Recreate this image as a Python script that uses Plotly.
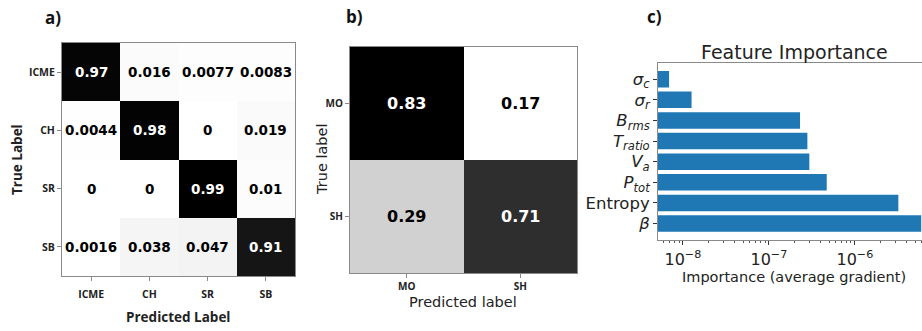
import numpy as np
import plotly.graph_objects as go

W, H = 922, 331

# ---------- data ----------
a_labels = ["ICME", "CH", "SR", "SB"]
a_values = [
    [0.97, 0.016, 0.0077, 0.0083],
    [0.0044, 0.98, 0.0, 0.019],
    [0.0, 0.0, 0.99, 0.01],
    [0.0016, 0.038, 0.047, 0.91],
]
b_labels = ["MO", "SH"]
b_values = [
    [0.83, 0.17],
    [0.29, 0.71],
]
c_features = ["<i>σ</i><sub><i>c</i></sub>", "<i>σ</i><sub><i>r</i></sub>",
              "<i>B</i><sub><i>rms</i></sub>", "<i>T</i><sub><i>ratio</i></sub>",
              "<i>V</i><sub><i>a</i></sub>", "<i>P</i><sub><i>tot</i></sub>",
              "Entropy", "<i>β</i>"]
c_importance = [6.9e-9, 1.26e-8, 2.3e-7, 2.8e-7, 2.95e-7, 4.7e-7, 3.2e-6, 5.9e-6]
c_tickvals = [1e-8, 1e-7, 1e-6]
c_ticktext = ["10<sup>−8</sup>", "10<sup>−7</sup>", "10<sup>−6</sup>"]

def px_x(p):
    return p / W

def px_y(p):
    return 1 - p / H

gray_scale = [[0, "#ffffff"], [1, "#000000"]]
FRAME = "#8a8a8a"

fig = go.Figure()

# ---------- panel a ----------
fig.add_trace(go.Heatmap(
    z=a_values, x=a_labels, y=a_labels, colorscale=gray_scale,
    zmin=0, zmax=0.99, showscale=False, xaxis="x", yaxis="y",
    hoverinfo="z"))

annotations = []
for i, row in enumerate(a_values):
    for j, v in enumerate(row):
        annotations.append(dict(
            x=a_labels[j], y=a_labels[i], xref="x", yref="y",
            text=f"{v:.2g}", showarrow=False,
            font=dict(family="DejaVu Sans", size=13.5,
                      color="white" if v > 0.5 else "black", weight="bold")))

# ---------- panel b ----------
fig.add_trace(go.Heatmap(
    z=b_values, x=b_labels, y=b_labels, colorscale=gray_scale,
    zmin=0.17, zmax=0.83, showscale=False, xaxis="x2", yaxis="y2",
    hoverinfo="z"))
for i, row in enumerate(b_values):
    for j, v in enumerate(row):
        annotations.append(dict(
            x=b_labels[j], y=b_labels[i], xref="x2", yref="y2",
            text=f"{v:.2g}", showarrow=False,
            font=dict(family="DejaVu Sans", size=16,
                      color="white" if v > 0.5 else "black", weight="bold")))

# ---------- panel c ----------
fig.add_trace(go.Bar(
    x=c_importance, y=c_features, orientation="h", width=0.8,
    marker=dict(color="#1f77b4", line=dict(width=0)),
    xaxis="x3", yaxis="y3"))

minor_vals = [k * 10.0 ** e for e in range(-9, -4) for k in range(2, 10)]

tick_font_a = dict(family="Open Sans", size=10.5, color="#222", weight="bold")
fig.update_layout(
    width=W, height=H, margin=dict(l=0, r=0, t=0, b=0),
    paper_bgcolor="white", plot_bgcolor="white", showlegend=False,
    xaxis=dict(domain=[px_x(62), px_x(295)], anchor="y",
               showline=True, linecolor=FRAME, mirror=True, linewidth=1,
               ticks="outside", ticklen=4, tickcolor=FRAME, ticklabelstandoff=4,
               tickfont=tick_font_a, showgrid=False, zeroline=False),
    yaxis=dict(domain=[px_y(276), px_y(43)], anchor="x", autorange="reversed",
               showline=True, linecolor=FRAME, mirror=True, linewidth=1,
               ticks="outside", ticklen=4, tickcolor=FRAME,
               tickfont=tick_font_a, showgrid=False, zeroline=False),
    xaxis2=dict(domain=[px_x(350), px_x(577)], anchor="y2",
                showline=True, linecolor=FRAME, mirror=True, linewidth=1,
                ticks="outside", ticklen=4, tickcolor=FRAME,
                tickfont=dict(family="Open Sans", size=10, color="#222", weight="bold"),
                showgrid=False, zeroline=False),
    yaxis2=dict(domain=[px_y(273), px_y(47)], anchor="x2", autorange="reversed",
                showline=True, linecolor=FRAME, mirror=True, linewidth=1,
                ticks="outside", ticklen=4, tickcolor=FRAME,
                tickfont=dict(family="Open Sans", size=10, color="#222", weight="bold"),
                showgrid=False, zeroline=False),
    xaxis3=dict(domain=[px_x(658), 1.0], anchor="y3", type="log",
                range=[-8.29, -5.22],
                showline=True, linecolor=FRAME, mirror=True, linewidth=1,
                ticks="outside", ticklen=4, tickcolor="#333", ticklabelstandoff=1,
                tickvals=c_tickvals, ticktext=c_ticktext,
                tickfont=dict(family="DejaVu Sans", size=16, color="#222"),
                minor=dict(tickvals=minor_vals, ticks="outside", ticklen=2,
                           tickcolor="#555", showgrid=False),
                showgrid=False, zeroline=False),
    yaxis3=dict(domain=[px_y(240), px_y(62.7)], anchor="x3",
                range=[7.8, -0.8],
                showline=True, linecolor=FRAME, linewidth=1,
                ticks="outside", ticklen=4, tickcolor="#333",
                tickfont=dict(family="DejaVu Sans", size=16.5, color="#222"),
                showgrid=False, zeroline=False),
)

def label(text, x, y, size, family="DejaVu Sans", bold=False, angle=0, color="#222"):
    f = dict(family=family, size=size, color=color)
    if bold:
        f["weight"] = "bold"
    return dict(text=text, x=px_x(x), y=px_y(y), xref="paper", yref="paper",
                xanchor="center", yanchor="middle", showarrow=False,
                textangle=angle, font=f)

annotations += [
    label("Predicted Label", 178, 317, 13.5, family="Open Sans", bold=True),
    label("True Label", 17, 160, 13.5, family="Open Sans", bold=True, angle=-90),
    label("Predicted label", 463, 302, 14.5),
    label("True label", 322, 160, 14.5, angle=-90),
    label("Feature Importance", 794, 52, 19),
    label("Importance (average gradient)", 794, 277, 14.5),
    label("a)", 53, 17, 17, family="Open Sans", bold=True, color="#111"),
    label("b)", 354, 16, 17, family="Open Sans", bold=True, color="#111"),
    label("c)", 654, 16, 17, family="Open Sans", bold=True, color="#111"),
]
fig.update_layout(annotations=annotations)

fig.write_html("out.html")
